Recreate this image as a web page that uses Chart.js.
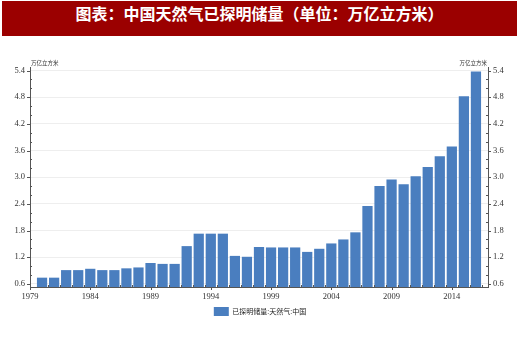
<!DOCTYPE html>
<html>
<head>
<meta charset="utf-8">
<script src="https://cdn.jsdelivr.net/npm/chart.js@4"></script>
<style>
  html, body { margin: 0; padding: 0; background: #fff; }
  #wrap { position: relative; width: 520px; height: 340px; }
  #banner {
    position: absolute; left: 2px; top: 1px; width: 515px; height: 35px;
    background: #9b0000; color: #fff; text-align: center; line-height: 35px;
    font: bold 16px "Noto Sans CJK SC", sans-serif;
  }
  #chart { position: absolute; left: 0; top: 0; }
</style>
</head>
<body>
<div id="wrap">
  <canvas id="chart" width="520" height="340"></canvas>
  <div id="banner">图表：中国天然气已探明储量（单位：万亿立方米）</div>
</div>
<script>
// chart data
const years = [1980, 1981, 1982, 1983, 1984, 1985, 1986, 1987, 1988, 1989,
  1990, 1991, 1992, 1993, 1994, 1995, 1996, 1997, 1998, 1999,
  2000, 2001, 2002, 2003, 2004, 2005, 2006, 2007, 2008, 2009,
  2010, 2011, 2012, 2013, 2014, 2015, 2016];
const reserves = [0.74, 0.74, 0.91, 0.91, 0.94, 0.91, 0.91, 0.95, 0.97, 1.07,
  1.05, 1.05, 1.45, 1.73, 1.73, 1.73, 1.23, 1.21, 1.43, 1.42,
  1.42, 1.42, 1.32, 1.39, 1.51, 1.60, 1.76, 2.35, 2.80, 2.95,
  2.84, 3.02, 3.23, 3.47, 3.69, 4.82, 5.38];
const xTicks = [1979, 1984, 1989, 1994, 1999, 2004, 2009, 2014];
const yTicks = [0.6, 1.2, 1.8, 2.4, 3.0, 3.6, 4.2, 4.8, 5.4];
const seriesName = '已探明储量:天然气:中国';
const unitLabel = '万亿立方米';

const axisColor = '#555';
const tickFont = { family: 'Liberation Serif', size: 8.5 };

// minor tick marks + unit labels on both y axes
const axisExtras = {
  id: 'axisExtras',
  afterDraw(chart) {
    const ctx = chart.ctx;
    const x = chart.scales.x, yl = chart.scales.y, yr = chart.scales.y2;
    ctx.save();
    ctx.strokeStyle = axisColor;
    ctx.lineWidth = 1;
    ctx.beginPath();
    // y axes
    for (let v = 0.6; v <= 5.41; v += 0.2) {
      const py = Math.round(yl.getPixelForValue(v)) + 0.5;
      const major = yTicks.some(t => Math.abs(t - v) < 0.01);
      const l = yl.right, r = yr.left;
      if (major) {
        ctx.moveTo(l - 3, py); ctx.lineTo(l, py);
        ctx.moveTo(r, py); ctx.lineTo(r + 3, py);
      } else {
        ctx.moveTo(l, py); ctx.lineTo(l + 2, py);
        ctx.moveTo(r - 2, py); ctx.lineTo(r, py);
      }
    }
    // x axis
    xTicks.forEach(t => {
      const px = Math.round(x.getPixelForValue(t)) + 0.5;
      ctx.moveTo(px, x.top); ctx.lineTo(px, x.top + 3);
    });
    years.forEach(yr0 => {
      const px = Math.round(x.getPixelForValue(yr0 + 0.5)) + 0.5;
      ctx.moveTo(px, x.top); ctx.lineTo(px, x.top - 2);
    });
    ctx.stroke();

    ctx.fillStyle = '#333';
    ctx.font = '5.5px "Noto Sans CJK SC"';
    ctx.textBaseline = 'middle';
    ctx.textAlign = 'left';
    ctx.fillText(unitLabel, yl.right + 1, chart.chartArea.top - 4);
    ctx.textAlign = 'right';
    ctx.fillText(unitLabel, yr.left - 1, chart.chartArea.top - 4);
    ctx.restore();
  }
};

function fixedTicks(list) {
  return scale => { scale.ticks = list.map(v => ({ value: v })); };
}

new Chart(document.getElementById('chart'), {
  type: 'bar',
  data: {
    datasets: [{
      label: seriesName,
      data: years.map((y, i) => ({ x: y, y: reserves[i] })),
      backgroundColor: '#4a7ebf',
      borderColor: '#4a7ebf',
      borderWidth: 0,
      barPercentage: 0.85,
      categoryPercentage: 1
    }]
  },
  options: {
    responsive: false,
    animation: false,
    layout: { padding: { top: 67, bottom: 14, left: 0, right: 0 } },
    plugins: {
      tooltip: { enabled: false },
      legend: {
        position: 'bottom',
        labels: {
          boxWidth: 15,
          boxHeight: 9,
          padding: 4,
          color: '#222',
          font: { family: 'Noto Sans CJK SC', size: 7 }
        }
      }
    },
    scales: {
      x: {
        type: 'linear',
        min: 1979,
        max: 2017,
        offset: false,
        afterBuildTicks: fixedTicks(xTicks),
        afterFit: s => { s.height = 16; },
        grid: { display: false, drawTicks: false },
        border: { color: axisColor },
        ticks: { padding: 5, color: '#333', font: tickFont, maxRotation: 0, callback: v => String(v) }
      },
      y: {
        position: 'left',
        min: 0.53,
        max: 5.48,
        afterBuildTicks: fixedTicks(yTicks),
        afterFit: s => { s.width = 30; },
        grid: { color: '#eeeeee', drawTicks: false },
        border: { color: axisColor },
        ticks: { padding: 5, color: '#333', font: tickFont, callback: v => v.toFixed(1) }
      },
      y2: {
        position: 'right',
        min: 0.53,
        max: 5.48,
        afterBuildTicks: fixedTicks(yTicks),
        afterFit: s => { s.width = 32; },
        grid: { drawOnChartArea: false, drawTicks: false },
        border: { color: axisColor },
        ticks: { padding: 5, color: '#333', font: tickFont, callback: v => v.toFixed(1) }
      }
    }
  },
  plugins: [axisExtras]
});
</script>
</body>
</html>
